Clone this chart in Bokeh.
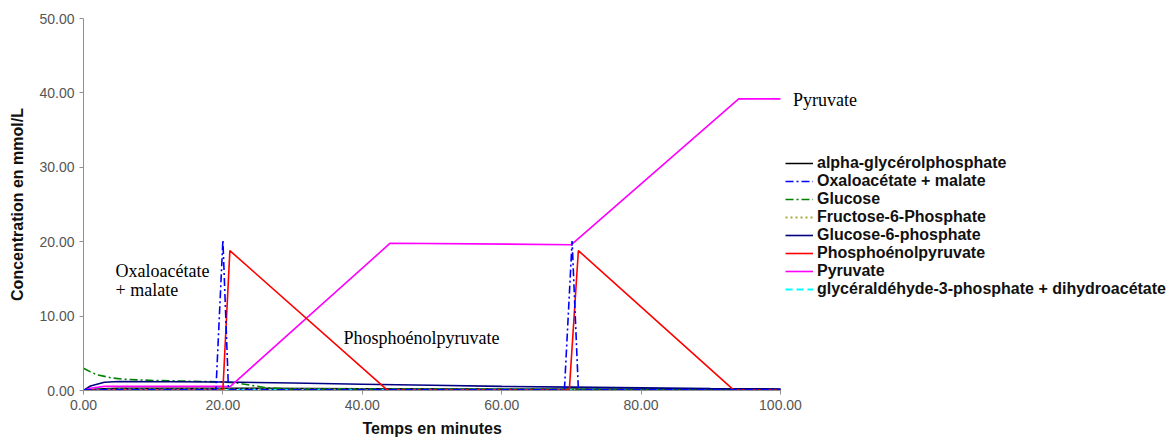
from bokeh.plotting import figure
from bokeh.models import Legend, LegendItem, Label, Range1d, NumeralTickFormatter, Title
from bokeh.embed import file_html
from bokeh.resources import INLINE

# ---- data ----
x_ticks = [0, 20, 40, 60, 80, 100]
y_ticks = [0, 10, 20, 30, 40, 50]

agp_t = [0, 2, 5, 20, 40, 70, 100]
agp_y = [0.0, 0.2, 0.3, 0.3, 0.25, 0.2, 0.15]

oaa_t = [0, 19, 20, 20.8, 69, 70.1, 71, 100]
oaa_y = [0.1, 0.1, 20.2, 0.1, 0.1, 20.1, 0.1, 0.1]

glc_t = [0, 1, 2, 4, 6, 10, 15, 20, 22, 26, 30, 100]
glc_y = [3.0, 2.5, 2.1, 1.7, 1.5, 1.35, 1.25, 1.15, 1.0, 0.4, 0.15, 0.1]

f6p_t = [0, 5, 100]
f6p_y = [0.0, 0.15, 0.1]

g6p_t = [0, 1, 3, 5, 20, 30, 40, 50, 60, 70, 80, 90, 100]
g6p_y = [0.0, 0.6, 1.1, 1.2, 1.15, 1.0, 0.85, 0.7, 0.55, 0.45, 0.35, 0.25, 0.2]

pep_t = [0, 20, 21, 43.6, 69.7, 71, 93.3, 100]
pep_y = [0.05, 0.05, 18.8, 0.05, 0.05, 18.8, 0.05, 0.05]

pyr_t = [0, 1, 3, 20, 21, 44, 70, 94, 100]
pyr_y = [0.0, 0.3, 0.55, 0.55, 0.5, 19.8, 19.6, 39.2, 39.2]

gap_t = [0, 2, 100]
gap_y = [0.05, 0.1, 0.1]

labels = [
    "alpha-glycérolphosphate",
    "Oxaloacétate + malate",
    "Glucose",
    "Fructose-6-Phosphate",
    "Glucose-6-phosphate",
    "Phosphoénolpyruvate",
    "Pyruvate",
    "glycéraldéhyde-3-phosphate + dihydroacétate",
]

X_MAX = 100 * 1085 / 697  # frame extends past the axis so legend/labels fit inside

p = figure(width=1168, height=443, output_backend="svg", toolbar_location=None,
           x_range=Range1d(0, X_MAX), y_range=Range1d(0, 50),
           min_border_left=83, min_border_right=0, min_border_top=18, min_border_bottom=53)
p.outline_line_color = None
p.xgrid.grid_line_color = None
p.ygrid.grid_line_color = None

for ax in (p.xaxis[0], p.yaxis[0]):
    ax.axis_line_color = "#909090"
    ax.major_tick_line_color = "#909090"
    ax.major_tick_in = 0
    ax.major_tick_out = 4
    ax.minor_tick_line_color = None
    ax.major_label_text_color = "#555555"
    ax.major_label_text_font = "Liberation Sans"
    ax.major_label_text_font_size = "14px"
    ax.axis_label_text_font = "Liberation Sans"
    ax.axis_label_text_font_style = "bold"
    ax.axis_label_text_font_size = "16px"
    ax.axis_label_text_color = "#111111"
    ax.formatter = NumeralTickFormatter(format="0.00")

p.xaxis.ticker = x_ticks
p.yaxis.ticker = y_ticks
p.xaxis.bounds = (0, 100)
p.yaxis.axis_label = "Concentration en mmol/L"
p.yaxis.axis_label_standoff = 10

# x-axis title, centred under the 0-100 axis (not under the wider frame)
p.add_layout(Title(text="Temps en minutes", align="left", offset=279,
                   text_font="Liberation Sans", text_font_style="bold",
                   text_font_size="16px", text_color="#111111", standoff=10), "below")

r_agp = p.line(agp_t, agp_y, line_color="#000000", line_width=1.5)
r_f6p = p.line(f6p_t, f6p_y, line_color="#A8A838", line_width=1.8, line_dash="2 3")
r_gap = p.line(gap_t, gap_y, line_color="#00FFFF", line_width=1.8, line_dash="7 4")
r_glc = p.line(glc_t, glc_y, line_color="#008000", line_width=1.6, line_dash="8 3 2 3")
r_g6p = p.line(g6p_t, g6p_y, line_color="#000080", line_width=1.6)
r_pyr = p.line(pyr_t, pyr_y, line_color="#FF00FF", line_width=1.6)
r_pep = p.line(pep_t, pep_y, line_color="#FF0000", line_width=1.6)
r_oaa = p.line(oaa_t, oaa_y, line_color="#0000FF", line_width=1.6, line_dash="8 3 2 3")

rends = [r_agp, r_oaa, r_glc, r_f6p, r_g6p, r_pep, r_pyr, r_gap]
legend = Legend(items=[LegendItem(label=l, renderers=[r]) for l, r in zip(labels, rends)],
                location=(702, 92), border_line_color=None, background_fill_alpha=0,
                label_text_font="Liberation Sans", label_text_font_style="bold",
                label_text_font_size="16px", label_text_color="#111111",
                glyph_width=28, glyph_height=18, label_height=18, spacing=0,
                padding=0, margin=0, label_standoff=4)
p.add_layout(legend)

serif = "Liberation Serif"
for txt, x, y in [("Oxaloacétate", 4.6, 16.0), ("+ malate", 4.6, 13.5),
                  ("Phosphoénolpyruvate", 37.3, 7.0), ("Pyruvate", 101.8, 39.1)]:
    p.add_layout(Label(x=x, y=y, text=txt, text_font=serif, text_font_size="18px",
                       text_baseline="middle", text_color="#000000"))

open("out.html", "w").write(file_html(p, INLINE))
